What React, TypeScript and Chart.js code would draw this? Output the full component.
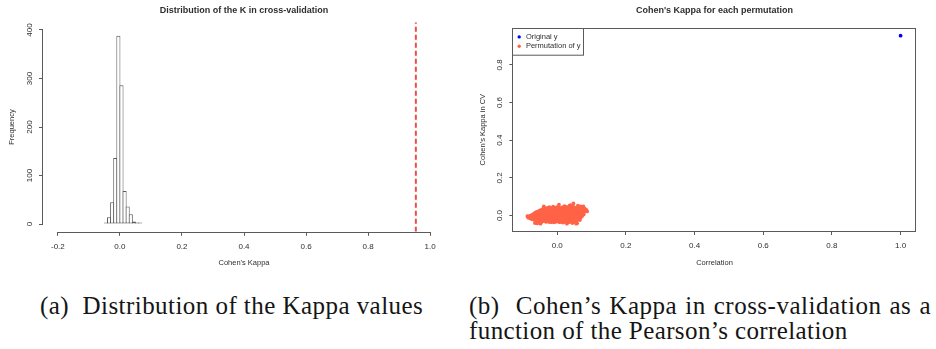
import React, { useEffect, useRef } from "react";
import { Chart, registerables } from "chart.js";

Chart.register(...registerables);

// ---- Panel (a): histogram of Cohen's kappa over the permuted runs (bin width 0.01)
const kappaBinCenters = [-0.045, -0.035, -0.025, -0.015, -0.005, 0.005, 0.015, 0.025, 0.035, 0.045, 0.055, 0.065];
const kappaBinCounts = [1, 14, 45, 136, 388, 286, 68, 36, 20, 5, 2, 1];
const observedKappa = 0.954;
const histKappaRange = [-0.248, 1.048];
const histFreqRange = [-16, 416];
const histXTicks = [-0.2, 0, 0.2, 0.4, 0.6, 0.8, 1.0];
const histYTicks = [0, 100, 200, 300, 400];

// ---- Panel (b): kappa in CV against correlation with the original y
const originalCorrelation = [1.0];
const originalKappa = [0.955];
const permutationResults: [number, number][] = [
  [-0.086, -0.006], [-0.083, -0.004], [-0.084, -0.012], [-0.087, -0.003],
  [-0.079, -0.008], [-0.077, 0.001], [-0.080, -0.003], [-0.078, -0.016],
  [-0.074, -0.012], [-0.072, 0.004], [-0.071, -0.006], [-0.075, 0.0], [-0.073, -0.020],
  [-0.069, 0.009], [-0.067, -0.015], [-0.066, -0.004], [-0.068, 0.002], [-0.065, 0.013], [-0.066, -0.024], [-0.065, -0.040],
  [-0.064, -0.009], [-0.062, 0.006], [-0.061, -0.020], [-0.063, 0.017], [-0.060, -0.001], [-0.062, 0.016], [-0.060, -0.031],
  [-0.059, -0.041], [-0.058, 0.011], [-0.057, -0.011], [-0.056, 0.003], [-0.055, -0.025], [-0.058, 0.021],
  [-0.054, -0.006], [-0.052, 0.015], [-0.051, -0.041], [-0.053, 0.005], [-0.050, -0.017], [-0.052, 0.026], [-0.054, -0.001], [-0.053, -0.030],
  [-0.049, 0.009], [-0.047, -0.013], [-0.046, 0.019], [-0.048, -0.028], [-0.045, 0.002], [-0.047, 0.030], [-0.049, -0.007], [-0.046, -0.035], [-0.049, -0.043],
  [-0.044, 0.012], [-0.042, -0.021], [-0.041, 0.004], [-0.043, -0.009], [-0.040, 0.024], [-0.044, -0.002], [-0.041, 0.033], [-0.042, -0.015], [-0.040, 0.041], [-0.040, -0.029],
  [-0.039, 0.049], [-0.037, 0.008], [-0.036, -0.012], [-0.038, 0.017], [-0.035, -0.026], [-0.039, -0.004], [-0.036, 0.028], [-0.037, 0.001], [-0.034, -0.018], [-0.034, 0.036],
  [-0.033, 0.013], [-0.032, -0.008], [-0.031, 0.036], [-0.030, -0.022], [-0.033, 0.003], [-0.031, 0.021], [-0.029, -0.014], [-0.032, -0.001], [-0.030, 0.009], [-0.033, -0.033],
  [-0.028, 0.040], [-0.027, -0.031], [-0.026, 0.016], [-0.028, -0.005], [-0.025, 0.006], [-0.027, 0.027], [-0.026, -0.017], [-0.024, 0.011], [-0.025, -0.010], [-0.028, 0.001], [-0.027, 0.038],
  [-0.023, 0.019], [-0.022, -0.024], [-0.021, 0.003], [-0.023, -0.008], [-0.020, 0.031], [-0.022, 0.010], [-0.019, -0.015], [-0.021, 0.024], [-0.020, -0.002], [-0.023, 0.044], [-0.024, -0.034],
  [-0.018, 0.007], [-0.017, -0.020], [-0.016, 0.017], [-0.018, -0.035], [-0.015, 0.035], [-0.017, -0.006], [-0.016, 0.026], [-0.014, 0.000], [-0.015, -0.012], [-0.018, 0.012], [-0.019, 0.040], [-0.017, -0.029],
  [-0.013, 0.021], [-0.012, -0.009], [-0.011, 0.038], [-0.013, -0.026], [-0.010, 0.005], [-0.012, 0.014], [-0.011, -0.016], [-0.009, 0.029], [-0.010, -0.003], [-0.013, 0.002], [-0.012, 0.047], [-0.014, 0.030], [-0.010, -0.036],
  [-0.008, 0.009], [-0.007, -0.021], [-0.006, 0.019], [-0.008, -0.011], [-0.005, 0.033], [-0.007, 0.001], [-0.006, -0.030], [-0.004, 0.013], [-0.005, -0.005], [-0.008, 0.025], [-0.004, 0.041], [-0.007, 0.036], [-0.004, -0.033],
  [-0.003, 0.016], [-0.002, -0.014], [-0.001, 0.006], [-0.003, -0.024], [0.000, 0.027], [-0.002, -0.003], [0.001, 0.038], [-0.001, 0.011], [0.000, -0.008], [-0.003, 0.021], [0.001, -0.019], [-0.002, 0.002], [-0.001, 0.044], [0.001, -0.030],
  [0.002, 0.010], [0.003, -0.017], [0.004, 0.024], [0.002, -0.006], [0.005, 0.058], [0.003, 0.003], [0.004, -0.028], [0.006, 0.016], [0.005, -0.011], [0.002, 0.032], [0.006, 0.007], [0.003, 0.043], [0.004, 0.035], [0.006, -0.035],
  [0.007, -0.002], [0.008, 0.021], [0.009, -0.022], [0.007, 0.013], [0.010, 0.035], [0.008, -0.012], [0.009, 0.005], [0.011, 0.027], [0.010, -0.034], [0.007, 0.017], [0.011, -0.005], [0.009, 0.041],
  [0.012, 0.011], [0.013, -0.015], [0.014, 0.030], [0.012, 0.002], [0.015, -0.026], [0.013, 0.019], [0.016, 0.045], [0.014, -0.007], [0.015, 0.008], [0.016, 0.024], [0.012, -0.020], [0.014, 0.038], [0.012, -0.031],
  [0.017, 0.014], [0.018, -0.010], [0.019, 0.036], [0.017, 0.003], [0.020, -0.031], [0.018, 0.026], [0.021, -0.003], [0.019, 0.009], [0.020, 0.019], [0.021, 0.050], [0.018, -0.019], [0.019, 0.043], [0.017, -0.037],
  [0.022, 0.006], [0.023, -0.013], [0.024, 0.028], [0.022, 0.017], [0.025, -0.024], [0.023, 0.040], [0.026, 0.001], [0.024, 0.012], [0.025, -0.006], [0.026, 0.033], [0.024, 0.036], [0.023, -0.032],
  [0.027, 0.022], [0.028, -0.017], [0.029, 0.008], [0.027, 0.046], [0.030, -0.001], [0.028, 0.015], [0.031, -0.029], [0.029, 0.031], [0.030, 0.004], [0.031, 0.020], [0.029, 0.040], [0.028, -0.035], [0.028, -0.043],
  [0.032, 0.011], [0.033, -0.036], [0.034, 0.025], [0.032, -0.008], [0.035, 0.039], [0.033, 0.002], [0.036, 0.017], [0.034, -0.018], [0.035, 0.008], [0.036, 0.053], [0.033, 0.032], [0.034, -0.028],
  [0.037, 0.014], [0.038, -0.012], [0.039, 0.029], [0.037, 0.003], [0.040, -0.027], [0.038, 0.021], [0.041, 0.041], [0.039, -0.004], [0.040, 0.010], [0.038, 0.037], [0.039, -0.033], [0.038, 0.055],
  [0.042, 0.018], [0.043, -0.021], [0.044, 0.006], [0.042, 0.033], [0.045, -0.007], [0.043, 0.012], [0.046, 0.026], [0.044, -0.040], [0.045, 0.047], [0.043, 0.042], [0.046, -0.030],
  [0.047, 0.064], [0.048, 0.009], [0.049, -0.015], [0.047, 0.022], [0.050, 0.002], [0.048, 0.036], [0.051, -0.029], [0.049, 0.015], [0.050, 0.029], [0.049, 0.045],
  [0.052, 0.012], [0.053, -0.009], [0.054, 0.025], [0.052, 0.040], [0.055, -0.022], [0.053, 0.004], [0.056, 0.019], [0.054, 0.031], [0.052, -0.034], [0.055, -0.043], [0.055, 0.038],
  [0.057, 0.016], [0.058, -0.041], [0.059, 0.028], [0.057, -0.004], [0.060, 0.009], [0.058, 0.037], [0.061, -0.016], [0.059, 0.022], [0.057, -0.027], [0.060, 0.052],
  [0.062, 0.013], [0.063, 0.030], [0.064, -0.009], [0.062, 0.043], [0.065, 0.021], [0.063, 0.002], [0.066, -0.024], [0.061, 0.035], [0.063, -0.019],
  [0.067, 0.025], [0.068, 0.008], [0.069, 0.036], [0.067, -0.003], [0.070, 0.017], [0.068, 0.048], [0.066, 0.031], [0.068, -0.012],
  [0.072, 0.020], [0.073, 0.031], [0.074, 0.009], [0.075, 0.040], [0.073, 0.014], [0.071, 0.028], [0.072, -0.004], [0.072, 0.045],
  [0.077, 0.026], [0.078, 0.018], [0.079, 0.032], [0.076, 0.049], [0.077, 0.006], [0.080, 0.037],
  [0.081, 0.024], [0.082, 0.028], [0.084, 0.025], [0.087, 0.022], [0.085, 0.030],
];
const scatterCorrRange = [-0.128, 1.044];
const scatterKappaRange = [-0.082, 0.994];
const scatterXTicks = [0, 0.2, 0.4, 0.6, 0.8, 1.0];
const scatterYTicks = [0, 0.2, 0.4, 0.6, 0.8];

const FONT = '"Liberation Sans", Arial, Helvetica, sans-serif';
const TEXT = "#2e2e2e";
const LINE = "#5a5a5a";
const TICK_FONT = { family: FONT, size: 8, lineHeight: 1.2 };
const LABEL_FONT = { family: FONT, size: 7.5, lineHeight: 1.2 };
const TITLE_FONT = { family: FONT, size: 9, weight: "bold" as const, lineHeight: 1.2 };

const fmt1 = (v: any) => Number(v).toFixed(1);
const fixTicks = (values: number[]) => (scale: any) => {
  scale.ticks = values.map((value) => ({ value }));
};

// R-style axis lines: only from the first to the last tick
const rAxisLines = {
  id: "rAxisLines",
  afterDraw(chart: any) {
    const { ctx } = chart;
    const xs = chart.scales.x;
    const ys = chart.scales.y;
    ctx.save();
    ctx.strokeStyle = LINE;
    ctx.lineWidth = 1;
    ctx.beginPath();
    const yLine = Math.round(xs.top) + 0.5;
    ctx.moveTo(xs.getPixelForValue(xs.ticks[0].value), yLine);
    ctx.lineTo(xs.getPixelForValue(xs.ticks[xs.ticks.length - 1].value), yLine);
    const xLine = Math.round(ys.right) - 0.5;
    ctx.moveTo(xLine, ys.getPixelForValue(ys.ticks[0].value));
    ctx.lineTo(xLine, ys.getPixelForValue(ys.ticks[ys.ticks.length - 1].value));
    ctx.stroke();
    ctx.restore();
  },
};

// Frame around the plotting region
const plotFrame = {
  id: "plotFrame",
  afterDraw(chart: any) {
    const { ctx, chartArea: a } = chart;
    ctx.save();
    ctx.strokeStyle = LINE;
    ctx.lineWidth = 1;
    const l = Math.round(a.left) - 0.5;
    const t = Math.round(a.top) + 0.5;
    const r = Math.round(a.right) - 0.5;
    const b = Math.round(a.bottom) + 0.5;
    ctx.strokeRect(l, t, r - l, b - t);
    ctx.restore();
  },
};

// Boxed legend in the top-left corner of the plotting region
const cornerLegend = {
  id: "cornerLegend",
  afterDraw(chart: any) {
    const { ctx, chartArea: a } = chart;
    const items = chart.data.datasets.map((ds: any) => ({ label: ds.label, color: ds.backgroundColor }));
    ctx.save();
    ctx.font = `7.5px ${FONT}`;
    const textW = Math.max(...items.map((it: any) => ctx.measureText(it.label).width));
    const left = Math.round(a.left) - 0.5;
    const top = Math.round(a.top) + 0.5;
    const rowH = 9.3;
    const w = 13.4 + textW + 3;
    const h = 8.4 + rowH + 9;
    ctx.fillStyle = "#ffffff";
    ctx.fillRect(left, top, w, h);
    ctx.strokeStyle = LINE;
    ctx.lineWidth = 1;
    ctx.strokeRect(left, top, w, h);
    items.forEach((it: any, i: number) => {
      const y = top + 8.4 + i * rowH;
      ctx.fillStyle = it.color;
      ctx.beginPath();
      ctx.arc(left + 6.7, y, 1.7, 0, Math.PI * 2);
      ctx.fill();
      ctx.fillStyle = TEXT;
      ctx.textBaseline = "middle";
      ctx.textAlign = "left";
      ctx.fillText(it.label, left + 13.4, y);
    });
    ctx.restore();
  },
};

const tickGrid = { display: true, drawOnChartArea: false, drawTicks: true, tickLength: 4, color: LINE, lineWidth: 1, offset: false };

function histogramConfig(): any {
  return {
    type: "bar",
    data: {
      datasets: [
        {
          type: "line",
          label: "Observed kappa",
          data: [
            { x: observedKappa, y: histFreqRange[0] },
            { x: observedKappa, y: histFreqRange[1] },
          ],
          borderColor: "#f24a4a",
          borderWidth: 2,
          borderDash: [5, 3],
          pointRadius: 0,
          order: 1,
        },
        {
          type: "bar",
          label: "Frequency",
          data: kappaBinCenters.map((x, i) => ({ x, y: kappaBinCounts[i] })),
          backgroundColor: "#ffffff",
          borderColor: LINE,
          borderWidth: 1,
          borderSkipped: false,
          inflateAmount: 0,
          minBarLength: 1.5,
          barPercentage: 1,
          categoryPercentage: 1.3224,
          order: 2,
        },
      ],
    },
    options: {
      responsive: false,
      animation: false,
      events: [],
      layout: { padding: { left: 0, right: 25, top: 0, bottom: 0 } },
      plugins: {
        legend: { display: false },
        tooltip: { enabled: false },
        title: {
          display: true,
          fullSize: false,
          text: "Distribution of the K in cross-validation",
          color: TEXT,
          font: TITLE_FONT,
          padding: { top: 5.6, bottom: 5.8 },
        },
      },
      scales: {
        x: {
          type: "linear",
          min: histKappaRange[0],
          max: histKappaRange[1],
          offset: false,
          afterBuildTicks: fixTicks(histXTicks),
          afterFit: (s: any) => { s.height = 43.2; },
          ticks: { autoSkip: false, minRotation: 0, maxRotation: 0, padding: 6.1, font: TICK_FONT, color: TEXT, callback: fmt1 },
          grid: tickGrid,
          border: { display: false },
          title: { display: true, text: "Cohen's Kappa", color: TEXT, font: LABEL_FONT, padding: { top: 0, bottom: 7.5 } },
        },
        y: {
          type: "linear",
          min: histFreqRange[0],
          max: histFreqRange[1],
          afterBuildTicks: fixTicks(histYTicks),
          afterFit: (s: any) => { s.width = 43; },
          ticks: { autoSkip: false, minRotation: 90, maxRotation: 90, crossAlign: "center", padding: 2.3, font: TICK_FONT, color: TEXT },
          grid: tickGrid,
          border: { display: false },
          title: { display: true, text: "Frequency", color: TEXT, font: LABEL_FONT, padding: { top: 7.8, bottom: 0 } },
        },
      },
    },
    plugins: [rAxisLines],
  };
}

function scatterConfig(): any {
  return {
    type: "scatter",
    data: {
      datasets: [
        {
          label: "Original y",
          data: originalCorrelation.map((x, i) => ({ x, y: originalKappa[i] })),
          backgroundColor: "#0000ff",
          pointRadius: 1.9,
          pointBorderWidth: 0,
        },
        {
          label: "Permutation of y",
          data: permutationResults.map(([x, y]) => ({ x, y })),
          backgroundColor: "#ff6347",
          pointRadius: 1.9,
          pointBorderWidth: 0,
        },
      ],
    },
    options: {
      responsive: false,
      animation: false,
      events: [],
      layout: { padding: { left: 0, right: 20.3, top: 0, bottom: 0 } },
      plugins: {
        legend: { display: false },
        tooltip: { enabled: false },
        title: {
          display: true,
          fullSize: false,
          text: "Cohen's Kappa for each permutation",
          color: TEXT,
          font: TITLE_FONT,
          padding: { top: 5.3, bottom: 12.2 },
        },
      },
      scales: {
        x: {
          type: "linear",
          min: scatterCorrRange[0],
          max: scatterCorrRange[1],
          afterBuildTicks: fixTicks(scatterXTicks),
          afterFit: (s: any) => { s.height = 44; },
          ticks: { autoSkip: false, minRotation: 0, maxRotation: 0, padding: 6.1, font: TICK_FONT, color: TEXT, callback: fmt1 },
          grid: tickGrid,
          border: { display: false },
          title: { display: true, text: "Correlation", color: TEXT, font: LABEL_FONT, padding: { top: 0, bottom: 7.5 } },
        },
        y: {
          type: "linear",
          min: scatterKappaRange[0],
          max: scatterKappaRange[1],
          afterBuildTicks: fixTicks(scatterYTicks),
          afterFit: (s: any) => { s.width = 43.3; },
          ticks: { autoSkip: false, minRotation: 90, maxRotation: 90, crossAlign: "center", padding: 4.4, font: TICK_FONT, color: TEXT, callback: fmt1 },
          grid: tickGrid,
          border: { display: false },
          title: { display: true, text: "Cohen's Kappa in CV", color: TEXT, font: LABEL_FONT, padding: { top: 8.2, bottom: 0 } },
        },
      },
    },
    plugins: [rAxisLines, plotFrame, cornerLegend],
  };
}

function ChartCanvas({ config, left, width, height }: { config: () => any; left: number; width: number; height: number }) {
  const ref = useRef<HTMLCanvasElement | null>(null);
  useEffect(() => {
    if (!ref.current) return;
    const chart = new Chart(ref.current, config());
    return () => chart.destroy();
  }, [config]);
  return (
    <canvas
      ref={ref}
      width={width}
      height={height}
      style={{ position: "absolute", left, top: 0, width, height }}
    />
  );
}

const captionFont: React.CSSProperties = {
  fontFamily: '"Liberation Serif", "Times New Roman", serif',
  fontSize: 25,
  lineHeight: "24.3px",
  color: "#151515",
  whiteSpace: "nowrap",
};

export default function App() {
  return (
    <div style={{ position: "absolute", left: 0, top: 0, width: 936, height: 349, background: "#ffffff", overflow: "hidden" }}>
      <ChartCanvas config={histogramConfig} left={0} width={470} height={275} />
      <ChartCanvas config={scatterConfig} left={470} width={466} height={275} />
      <div style={{ ...captionFont, position: "absolute", left: 40, top: 294.4, letterSpacing: "0.45px" }}>
        (a)&nbsp; Distribution of the Kappa values
      </div>
      <div style={{ ...captionFont, position: "absolute", left: 469, top: 294.4, width: 462 }}>
        <div style={{ textAlign: "justify", textAlignLast: "justify", letterSpacing: "0.5px" }}>(b)&nbsp; Cohen’s Kappa in cross-validation as a</div>
        <div style={{ letterSpacing: "0.4px" }}>function of the Pearson’s correlation</div>
      </div>
    </div>
  );
}
